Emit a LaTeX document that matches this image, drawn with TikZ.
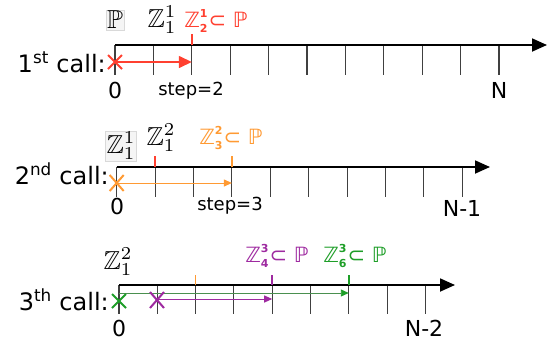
\documentclass[tikz,border=0pt]{standalone}
\usepackage{amssymb}
\usepackage{graphicx}
\usepackage{fontspec}
\setmainfont{DejaVu Sans}
\usetikzlibrary{arrows.meta}
\definecolor{cred}{HTML}{FF4030}
\definecolor{corange}{HTML}{FF9A33}
\definecolor{cpurple}{HTML}{9E2AA0}
\definecolor{cgreen}{HTML}{1E9E28}
\newcommand{\zzlab}[2]{ℤ\rlap{\raisebox{0.85ex}{\fontsize{11}{11}\selectfont\bfseries #1}}\raisebox{-0.5ex}{\fontsize{11}{11}\selectfont\bfseries #2}\kern1pt⊂ ℙ}
\newcommand{\bigmath}[1]{\fontsize{10}{12}\selectfont\scalebox{2.6}{$#1$}}
\tikzset{
  axisline/.style={line width=1.8pt,-{Triangle[length=15pt,width=13pt]}},
  tickline/.style={line width=1.1pt,black!75},
  ctick/.style={line width=1.6pt},
  callbl/.style={font=\fontsize{24}{28}\selectfont,inner sep=0pt},
  numlbl/.style={font=\fontsize{22}{26}\selectfont,inner sep=0pt},
  steplbl/.style={font=\fontsize{18}{22}\selectfont,inner sep=0pt},
  mathlbl/.style={inner sep=0pt},
  boxlbl/.style={inner sep=1.2pt,draw=black!15,fill=black!4},
  collbl/.style={font=\fontsize{21}{25}\selectfont,inner sep=0pt},
  xmark/.style={line width=2pt},
}
\begin{document}
\begin{tikzpicture}[x=1pt,y=-1pt]
\useasboundingbox (0,0) rectangle (552,346);
% ---------- row 1
\foreach \i in {0,...,10} {
  \coordinate (a\i) at ({115+38.4*\i},45);
  \draw[tickline] (a\i) -- ++(0,30);
}
\coordinate (a0s) at (115,45);
\coordinate (a0e) at (547,45);
\draw[axisline] (a0s) -- (a0e);
\draw[ctick,cred] (a2) -- ++(0,-11);
\coordinate (x1) at (115,62);
\draw[xmark,cred] ([shift={(-7,-7)}]x1) -- ([shift={(7,7)}]x1) ([shift={(-7,7)}]x1) -- ([shift={(7,-7)}]x1);
\draw[cred,line width=1.5pt,-{Triangle[length=13pt,width=12pt]}] (x1) -- (a2 |- x1);
\node[callbl,anchor=east] (c1) at (106,62) {1\textsuperscript{st} call:};
\node[numlbl] (z1) at (115,90) {0};
\node[steplbl] (s1) at (191,91) {step=2};
\node[numlbl] (n1) at (499,90) {N};
\node[boxlbl] (p1) at (115,20) {\bigmath{\mathbb{P}}};
\node[mathlbl] (m1) at (162,20) {\bigmath{\mathbb{Z}_1^1}};
\node[collbl,text=cred] (r1) at (216,21) {\zzlab{1}{2}};
% ---------- row 2
\foreach \i in {0,...,9} {
  \coordinate (b\i) at ({116.7+38.4*\i},167);
  \draw[tickline] (b\i) -- ++(0,30);
}
\coordinate (b0e) at (490,167);
\draw[axisline] (b0) -- (b0e);
\draw[ctick,cred] (b1) -- ++(0,-11);
\draw[ctick,corange] (b3) -- ++(0,-11);
\coordinate (x2) at (116.7,183);
\draw[xmark,corange] ([shift={(-7,-8)}]x2) -- ([shift={(7,8)}]x2) ([shift={(-7,8)}]x2) -- ([shift={(7,-8)}]x2);
\draw[corange,line width=1pt,-{Triangle[length=8pt,width=7pt]}] (x2) -- (b3 |- x2);
\node[callbl,anchor=east] (c2) at (109,174) {2\textsuperscript{nd} call:};
\node[numlbl] (z2) at (117,206) {0};
\node[steplbl] (s2) at (230,206) {step=3};
\node[numlbl] (n2) at (462,208) {N-1};
\node[boxlbl] (p2) at (121,146) {\bigmath{\mathbb{Z}_1^1}};
\node[mathlbl] (m2) at (161,138) {\bigmath{\mathbb{Z}_1^2}};
\node[collbl,text=corange] (r2) at (231,138) {\zzlab{2}{3}};
% ---------- row 3
\foreach \i in {0,...,8} {
  \coordinate (c\i) at ({119+38.3*\i},285);
  \draw[tickline] (c\i) -- ++(0,29);
}
\coordinate (c0e) at (455,285);
\draw[axisline] (c0) -- (c0e);
\draw[ctick,corange] (c2) -- ++(0,-10);
\draw[ctick,cpurple] (c4) -- ++(0,-10);
\draw[ctick,cgreen] (c6) -- ++(0,-10);
\coordinate (x3) at (119,301);
\coordinate (x4) at (157,300);
\coordinate (g3) at (119,293);
\coordinate (p3) at (157,299);
\draw[cgreen!55!gray,line width=0.9pt,-{Triangle[length=8pt,width=7pt,color=cgreen,fill=cgreen]}] (g3) -- (c6 |- g3);
\draw[cpurple,line width=1pt,-{Triangle[length=8pt,width=7pt]}] (p3) -- (c4 |- p3);
\draw[xmark,cgreen] ([shift={(-7,-7)}]x3) -- ([shift={(7,7)}]x3) ([shift={(-7,7)}]x3) -- ([shift={(7,-7)}]x3);
\draw[xmark,cpurple] ([shift={(-7,-8)}]x4) -- ([shift={(7,8)}]x4) ([shift={(-7,8)}]x4) -- ([shift={(7,-8)}]x4);
\node[callbl,anchor=east] (c3) at (109,300) {3\textsuperscript{th} call:};
\node[numlbl] (z3) at (119,328) {0};
\node[numlbl] (n3) at (424,328) {N-2};
\node[mathlbl] (m3) at (118,262) {\bigmath{\mathbb{Z}_1^2}};
\node[collbl,text=cpurple] (r3) at (277,256) {\zzlab{3}{4}};
\node[collbl,text=cgreen] (r4) at (355,256) {\zzlab{3}{6}};
\end{tikzpicture}
\end{document}
